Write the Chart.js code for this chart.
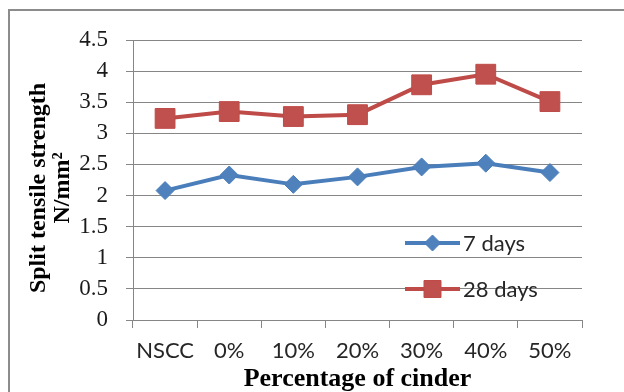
<!DOCTYPE html>
<html>
<head>
<meta charset="utf-8">
<script src="https://cdn.jsdelivr.net/npm/chart.js@4/dist/chart.umd.min.js"></script>
<style>
  html, body { margin: 0; padding: 0; background: #fff; }
  #wrap { position: relative; width: 624px; height: 392px; overflow: hidden; }
  #frame { position: absolute; left: 8px; top: 9px; width: 800px; height: 600px; border: 2px solid #8c8c8c; box-sizing: border-box; }
  canvas { position: absolute; left: 0; top: 0; }
</style>
</head>
<body>
<div id="wrap">
  <div id="frame"></div>
  <canvas id="c" width="624" height="392"></canvas>
</div>
<script>
const categories = ["NSCC", "0%", "10%", "20%", "30%", "40%", "50%"];
const days7 = [2.08, 2.33, 2.18, 2.30, 2.46, 2.52, 2.37];
const days28 = [3.24, 3.35, 3.27, 3.30, 3.78, 3.95, 3.51];
const seriesNames = ["7 days", "28 days"];
const yTitle = ["Split tensile strength", "N/mm\u00B2"];
const xTitle = "Percentage of cinder";

const yTitlePlugin = {
  id: 'yTitleShifted',
  afterDraw(chart) {
    const ctx = chart.ctx;
    const ca = chart.chartArea;
    const cy = (ca.top + ca.bottom) / 2 + 8;
    ctx.save();
    ctx.fillStyle = '#000';
    ctx.font = 'bold 24px "Liberation Serif"';
    ctx.textAlign = 'center';
    ctx.textBaseline = 'middle';
    yTitle.forEach((t, i) => {
      ctx.save();
      ctx.translate(ca.left - 94 + i * 24, cy);
      ctx.rotate(-Math.PI / 2);
      ctx.fillText(t, 0, 0);
      ctx.restore();
    });
    ctx.restore();
  }
};

const legendPlugin = {
  id: 'insideLegend',
  afterDraw(chart) {
    const ctx = chart.ctx;
    const ca = chart.chartArea;
    const x0 = ca.right - 177, x1 = ca.right - 122, tx = ca.right - 119;
    const ys = [ca.bottom - 77, ca.bottom - 31];
    chart.data.datasets.forEach((ds, i) => {
      const y = ys[i];
      ctx.save();
      ctx.strokeStyle = ds.borderColor;
      ctx.lineWidth = ds.borderWidth;
      ctx.beginPath(); ctx.moveTo(x0, y); ctx.lineTo(x1, y); ctx.stroke();
      ctx.fillStyle = ds.pointBackgroundColor;
      ctx.strokeStyle = ds.pointBorderColor;
      ctx.lineWidth = 1;
      Chart.helpers.drawPoint(ctx, {pointStyle: ds.pointStyle, radius: ds.legendRadius, rotation: 0, borderWidth: 1}, (x0 + x1) / 2, y);
      ctx.fillStyle = '#262626';
      ctx.font = '22px Lato';
      ctx.textAlign = 'left';
      ctx.textBaseline = 'middle';
      ctx.fillText(ds.label, tx, y + 1);
      ctx.restore();
    });
  }
};

new Chart(document.getElementById('c'), {
  type: 'line',
  data: {
    labels: categories,
    datasets: [
      {
        label: seriesNames[0], data: days7,
        borderColor: '#4A7EBB', borderWidth: 4,
        pointStyle: 'rectRot', pointRadius: 9, legendRadius: 8,
        pointBackgroundColor: '#4F81BD', pointBorderColor: '#4A7EBB', pointBorderWidth: 1,
        tension: 0
      },
      {
        label: seriesNames[1], data: days28,
        borderColor: '#BE4B48', borderWidth: 4,
        pointStyle: 'rect', pointRadius: 14, legendRadius: 12,
        pointBackgroundColor: '#C0504D', pointBorderColor: '#BE4B48', pointBorderWidth: 1,
        tension: 0
      }
    ]
  },
  options: {
    responsive: false,
    animation: false,
    events: [],
    layout: { padding: { left: 14, top: 40, right: 42, bottom: 0 } },
    plugins: { legend: { display: false }, tooltip: { enabled: false } },
    scales: {
      x: {
        offset: true,
        grid: { offset: true, drawOnChartArea: false, color: '#868686', tickLength: 8, lineWidth: 1 },
        border: { color: '#868686', width: 1 },
        ticks: { color: '#262626', font: { family: 'Lato', size: 22 }, padding: 10, maxRotation: 0, autoSkip: false },
        title: { display: true, text: xTitle, color: '#000', font: { family: 'Liberation Serif', size: 26, weight: 'bold', lineHeight: 1 }, padding: { top: 0, bottom: 0 } },
        afterFit(s) { s.height = 72; }
      },
      y: {
        min: 0, max: 4.5,
        grid: { color: '#868686', tickLength: 7, lineWidth: 1 },
        border: { color: '#868686', width: 1 },
        ticks: {
          stepSize: 0.5, color: '#1a1a1a', font: { family: 'Liberation Serif', size: 23 }, padding: 18,
          callback: (v) => String(Math.round(v * 10) / 10)
        },
        title: { display: false },
        afterFit(s) { s.width = 119; }
      }
    }
  },
  plugins: [yTitlePlugin, legendPlugin]
});
</script>
</body>
</html>
